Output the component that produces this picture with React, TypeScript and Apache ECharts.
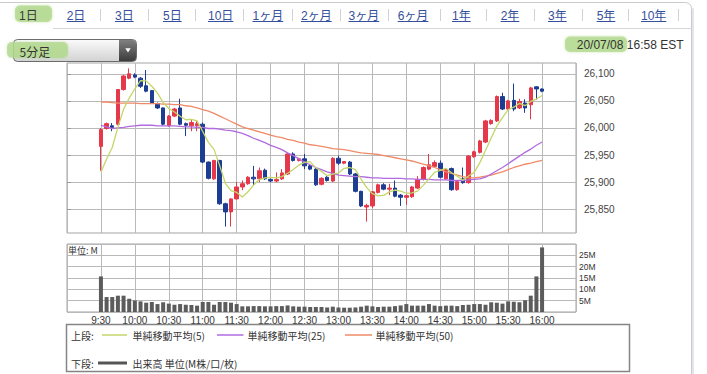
import React, { useEffect, useRef } from 'react';
import * as echarts from 'echarts';

// ---- data ----
const TIME_LABELS = ['9:30', '10:00', '10:30', '11:00', '11:30', '12:00', '12:30', '13:00', '13:30', '14:00', '14:30', '15:00', '15:30', '16:00'];
const PRICE_TICKS = [25850, 25900, 25950, 26000, 26050, 26100];
const VOLUME_TICKS = [5, 10, 15, 20, 25];

const OPEN = [25966, 25999, 26004, 26007, 26071, 26092, 26098, 26092, 26078, 26069, 26045, 26037, 26004, 26022, 26037, 26008, 26004, 26004, 26007, 25937, 25906, 25940, 25860, 25845, 25869, 25891, 25897, 25909, 25906, 25922, 25905, 25902, 25906, 25915, 25952, 25940, 25943, 25930, 25924, 25896, 25909, 25902, 25944, 25935, 25937, 25915, 25883, 25854, 25856, 25881, 25895, 25887, 25889, 25876, 25872, 25873, 25889, 25905, 25924, 25929, 25935, 25906, 25925, 25886, 25906, 25899, 25947, 25955, 25974, 26008, 26013, 26058, 26035, 26051, 26037, 26046, 26043, 26076, 26072];
const CLOSE = [25997, 26008, 26001, 26071, 26096, 26100, 26094, 26077, 26068, 26046, 26037, 26007, 26022, 26035, 26007, 26005, 26010, 26008, 25937, 25907, 25940, 25860, 25845, 25869, 25891, 25897, 25909, 25906, 25921, 25906, 25902, 25905, 25917, 25952, 25940, 25943, 25930, 25924, 25895, 25907, 25903, 25944, 25935, 25938, 25915, 25883, 25856, 25857, 25882, 25895, 25887, 25889, 25874, 25872, 25875, 25891, 25905, 25927, 25932, 25936, 25909, 25923, 25886, 25901, 25899, 25948, 25956, 25976, 26013, 26014, 26058, 26035, 26050, 26035, 26049, 26037, 26074, 26072, 26068];
const LOW = [25921, 25997, 25994, 26005, 26069, 26090, 26092, 26074, 26066, 26045, 26035, 26004, 26002, 26020, 26005, 25985, 25994, 25994, 25935, 25905, 25904, 25858, 25818, 25818, 25868, 25885, 25895, 25894, 25900, 25904, 25900, 25900, 25904, 25913, 25938, 25938, 25924, 25922, 25893, 25894, 25901, 25900, 25932, 25933, 25913, 25881, 25854, 25827, 25852, 25879, 25885, 25876, 25872, 25856, 25858, 25871, 25887, 25903, 25922, 25927, 25907, 25904, 25884, 25884, 25897, 25897, 25945, 25953, 25972, 26006, 26011, 26033, 26033, 26031, 26035, 26028, 26016, 26052, 26066];
const HIGH = [26000, 26010, 26009, 26072, 26098, 26110, 26101, 26094, 26107, 26070, 26047, 26038, 26024, 26037, 26054, 26010, 26016, 26013, 26010, 25938, 25941, 25941, 25862, 25870, 25900, 25903, 25911, 25930, 25927, 25925, 25907, 25918, 25924, 25954, 25955, 25945, 25952, 25932, 25926, 25909, 25911, 25946, 25949, 25939, 25939, 25917, 25884, 25860, 25883, 25897, 25898, 25897, 25903, 25878, 25877, 25893, 25911, 25929, 25952, 25940, 25940, 25925, 25927, 25903, 25927, 25950, 25958, 25978, 26015, 26016, 26060, 26065, 26052, 26082, 26054, 26053, 26076, 26077, 26073];
const VOLUME = [15.7, 6.6, 6.6, 7.2, 7.2, 5.9, 5.1, 4.7, 4.1, 4.4, 3.5, 4.3, 3.7, 3.2, 3.5, 3.2, 3.1, 2.8, 4.4, 4.4, 3.2, 4.4, 4.4, 4.1, 3.5, 2.5, 2.5, 2.6, 2.6, 2.5, 2.5, 2.6, 2.6, 2.9, 2.5, 2.35, 2.35, 2.2, 2.2, 2.2, 2.0, 2.35, 2.0, 1.9, 1.9, 2.0, 2.35, 2.8, 2.5, 2.2, 2.35, 2.35, 2.6, 2.9, 3.5, 2.8, 2.8, 2.8, 3.5, 2.8, 2.6, 2.8, 2.8, 2.6, 3.1, 3.2, 3.5, 3.5, 3.2, 4.3, 4.1, 3.7, 4.7, 4.5, 4.3, 5.2, 7.2, 15.7, 28.5];
const PREV_CLOSES = [25885, 25894, 25886, 25928];
const SMA25 = [26005, 26002, 25999, 26000, 26001, 26003, 26004, 26005, 26005, 26005, 26004, 26004, 26004, 26004, 26003, 26002, 26002, 26001, 26001, 25999, 25999, 25998, 25996, 25995, 25993, 25990, 25986, 25981, 25977, 25973, 25968, 25964, 25960, 25954, 25949, 25943, 25937, 25932, 25927, 25923, 25919, 25916, 25913, 25912, 25911, 25910, 25910, 25909, 25908, 25908, 25907, 25907, 25907, 25907, 25906, 25906, 25905, 25905, 25905, 25904, 25904, 25904, 25903, 25903, 25903, 25904, 25905, 25906, 25909, 25915, 25921, 25927, 25934, 25941, 25948, 25955, 25961, 25968, 25974];
const SMA50 = [26048, 26048, 26047, 26046, 26046, 26046, 26046, 26045, 26045, 26045, 26045, 26044, 26044, 26043, 26043, 26041, 26040, 26037, 26034, 26031, 26027, 26022, 26017, 26012, 26007, 26002, 25999, 25996, 25993, 25990, 25987, 25984, 25982, 25979, 25977, 25974, 25972, 25969, 25968, 25966, 25964, 25962, 25961, 25960, 25958, 25956, 25954, 25953, 25952, 25951, 25949, 25947, 25945, 25943, 25941, 25939, 25936, 25933, 25930, 25927, 25923, 25919, 25916, 25913, 25910, 25908, 25908, 25909, 25911, 25913, 25916, 25919, 25923, 25927, 25930, 25933, 25935, 25938, 25940];

const TABS = ['1日', '2日', '3日', '5日', '10日', '1ヶ月', '2ヶ月', '3ヶ月', '6ヶ月', '1年', '2年', '3年', '5年', '10年'];
const TAB_X = [19, 66.7, 115, 163, 208, 252.5, 301, 348.5, 397.7, 452, 500.7, 548, 596.7, 641];

// ---- styles ----
const RED = '#e5384a';
const BLUE = '#1d3d92';
const SMA5_COLOR = '#c3d66a';
const SMA25_COLOR = '#b16be0';
const SMA50_COLOR = '#ef8a68';
const GRID_COLOR = '#b9b9b9';
const FONT = '"Liberation Sans", "Noto Sans CJK JP", sans-serif';
const JFONT = '"Noto Sans CJK JP", "Liberation Sans", sans-serif';

const START = 30; // minutes after 9:00 of the first bar
const STEP = 5;
const xOf = (i: number) => START + STEP * i;

function textWidth(s: string, size: number) {
  let w = 0;
  for (const ch of s) w += /[0-9]/.test(ch) ? size * 0.556 : size;
  return w;
}

function buildOption() {
  const allCloses = [...PREV_CLOSES, ...CLOSE];
  const sma5 = CLOSE.map((_, i) => {
    let s = 0;
    for (let k = 0; k < 5; k++) s += allCloses[i + 4 - k];
    return s / 5;
  });

  const candles = OPEN.map((o, i) => [xOf(i), o, CLOSE[i], LOW[i], HIGH[i]]);
  const vols = VOLUME.map((v, i) => [xOf(i), v]);
  const line = (arr: number[]) => arr.map((v, i) => [xOf(i), v]);

  const graphics: any[] = [];
  // outer frame
  graphics.push({ type: 'rect', shape: { x: -6, y: 2.5, width: 697.5, height: 420, r: 6 }, style: { fill: 'none', stroke: '#cacaca', lineWidth: 1 }, z: 1 });
  graphics.push({ type: 'line', shape: { x1: 693, y1: 8, x2: 693, y2: 374 }, style: { stroke: '#e2e5ee', lineWidth: 2 }, z: 1 });
  graphics.push({ type: 'line', shape: { x1: 53, y1: 28.5, x2: 691.5, y2: 28.5 }, style: { stroke: '#d6d6d6', lineWidth: 1 }, z: 1 });

  // tabs
  graphics.push({ type: 'rect', shape: { x: 15, y: 5.5, width: 37, height: 16.5, r: 5 }, style: { fill: 'rgba(176,216,140,0.75)', shadowBlur: 3, shadowColor: 'rgba(176,216,140,0.8)' }, z: 2 });
  TABS.forEach((t, i) => {
    const sel = i === 0;
    graphics.push({ type: 'text', x: TAB_X[i], y: 15.5, style: { text: t, font: `12px ${FONT}`, fill: sel ? '#3a3a3a' : '#34509c', textAlign: 'left', textVerticalAlign: 'middle' }, z: 3 });
    if (!sel) {
      const w = textWidth(t, 12);
      graphics.push({ type: 'line', shape: { x1: TAB_X[i], y1: 21.5, x2: TAB_X[i] + w, y2: 21.5 }, style: { stroke: '#34509c', lineWidth: 1 }, z: 3 });
      const nextX = i < TABS.length - 1 ? TAB_X[i + 1] : TAB_X[i] + w + 24;
      if (i >= 1) {
        const sx = Math.round((TAB_X[i] + w + nextX) / 2) + 0.5;
        graphics.push({ type: 'line', shape: { x1: sx, y1: 9, x2: sx, y2: 21 }, style: { stroke: '#d2d2d2', lineWidth: 1 }, z: 3 });
      }
    }
  });

  // dropdown
  graphics.push({ type: 'rect', shape: { x: 13.5, y: 39.5, width: 123, height: 22, r: 4 }, style: { fill: new echarts.graphic.LinearGradient(0, 0, 0, 1, [{ offset: 0, color: '#fbfbfb' }, { offset: 1, color: '#d2d2d2' }]), stroke: '#6c6c6c', lineWidth: 1 }, z: 2 });
  graphics.push({ type: 'rect', shape: { x: 119, y: 40, width: 17, height: 21, r: [0, 3.5, 3.5, 0] }, style: { fill: new echarts.graphic.LinearGradient(0, 0, 0, 1, [{ offset: 0, color: '#808080' }, { offset: 1, color: '#3c3c3c' }]) }, z: 3 });
  graphics.push({ type: 'polygon', shape: { points: [[125.3, 48.3], [130.7, 48.3], [128, 52.5]] }, style: { fill: '#ffffff' }, z: 4 });
  graphics.push({ type: 'rect', shape: { x: 7, y: 42, width: 61, height: 16, r: 5 }, style: { fill: 'rgba(176,216,140,0.72)', shadowBlur: 3, shadowColor: 'rgba(176,216,140,0.8)' }, z: 4 });
  graphics.push({ type: 'text', x: 19.5, y: 51.5, style: { text: '5分足', font: `12px ${JFONT}`, fill: '#333', textAlign: 'left', textVerticalAlign: 'middle' }, z: 5 });

  // date
  graphics.push({ type: 'rect', shape: { x: 565, y: 36.5, width: 62, height: 15.5, r: 5 }, style: { fill: 'rgba(176,216,140,0.72)', shadowBlur: 3, shadowColor: 'rgba(176,216,140,0.8)' }, z: 2 });
  graphics.push({ type: 'text', x: 683.5, y: 44.5, style: { text: '20/07/08 16:58 EST', font: `12px ${FONT}`, fill: '#333', textAlign: 'right', textVerticalAlign: 'middle' }, z: 3 });

  // volume unit
  graphics.push({ type: 'text', x: 68, y: 250, style: { text: '単位: M', font: `9px ${JFONT}`, fill: '#333', textAlign: 'left', textVerticalAlign: 'middle' }, z: 100 });

  // legend box
  graphics.push({ type: 'rect', shape: { x: 66.5, y: 324.5, width: 563, height: 47 }, style: { fill: '#fff', stroke: '#858585', lineWidth: 1.5 }, z: 2 });
  const lt = (x: number, y: number, text: string) => ({ type: 'text', x, y, style: { text, font: `10px ${JFONT}`, fill: '#333', textAlign: 'left', textVerticalAlign: 'middle' }, z: 3 });
  const ll = (x1: number, x2: number, y: number, color: string, w: number) => ({ type: 'line', shape: { x1, y1: y, x2, y2: y }, style: { stroke: color, lineWidth: w }, z: 3 });
  graphics.push(lt(71, 335, '上段:'));
  graphics.push(ll(102, 127, 335, SMA5_COLOR, 1.5));
  graphics.push(lt(132.5, 335, '単純移動平均(5)'));
  graphics.push(ll(217, 243.5, 335, SMA25_COLOR, 1.5));
  graphics.push(lt(247.5, 335, '単純移動平均(25)'));
  graphics.push(ll(345, 372, 335, SMA50_COLOR, 1.5));
  graphics.push(lt(375.5, 335, '単純移動平均(50)'));
  graphics.push(lt(71, 363, '下段:'));
  graphics.push(ll(98, 127, 363, '#555', 3));
  graphics.push(lt(132.5, 363, '出来高 単位(M株/口/枚)'));

  const splitLine = { show: true, lineStyle: { color: GRID_COLOR, width: 1 } };

  return {
    animation: false,
    backgroundColor: '#ffffff',
    grid: [
      { left: 67, top: 63, width: 509, height: 170, show: true, borderColor: '#a3a3a3', borderWidth: 1 },
      { left: 67, top: 244, width: 509, height: 68, show: true, borderColor: '#a3a3a3', borderWidth: 1 },
    ],
    xAxis: [
      { type: 'value', gridIndex: 0, min: 0, max: 450, interval: 30, axisLine: { show: false }, axisTick: { show: false }, axisLabel: { show: false }, splitLine },
      {
        type: 'value', gridIndex: 1, min: 0, max: 450, interval: 30, axisLine: { show: false }, axisTick: { show: false },
        axisLabel: { show: true, showMinLabel: false, showMaxLabel: false, margin: 3, color: '#333', fontSize: 10, fontFamily: FONT, formatter: (v: number) => TIME_LABELS[Math.round(v / 30) - 1] || '' },
        splitLine,
      },
    ],
    yAxis: [
      {
        type: 'value', gridIndex: 0, position: 'right', min: 25806, max: 26120, minInterval: 50, maxInterval: 50,
        axisLine: { show: false },
        axisTick: { show: true, length: 4, lineStyle: { color: '#9a9a9a' }, customValues: PRICE_TICKS },
        axisLabel: { customValues: PRICE_TICKS, margin: 8, color: '#444', fontSize: 10, fontFamily: FONT, formatter: (v: number) => (PRICE_TICKS.includes(v) ? v.toLocaleString('en-US') : '') },
        splitLine,
      },
      {
        type: 'value', gridIndex: 1, position: 'right', min: 0, max: 30, interval: 5,
        axisLine: { show: false }, axisTick: { show: false },
        axisLabel: { margin: 3, color: '#333', fontSize: 8.5, fontFamily: FONT, formatter: (v: number) => (VOLUME_TICKS.includes(v) ? v + 'M' : '') },
        splitLine,
      },
    ],
    series: [
      {
        type: 'candlestick', xAxisIndex: 0, yAxisIndex: 0, barWidth: 4,
        encode: { x: 0, y: [1, 2, 3, 4] },
        data: candles,
        itemStyle: { color: RED, color0: BLUE, borderColor: RED, borderColor0: BLUE, borderWidth: 1 },
      },
      { type: 'line', xAxisIndex: 0, yAxisIndex: 0, data: line(SMA50), symbol: 'none', lineStyle: { color: SMA50_COLOR, width: 1.3 }, z: 3 },
      { type: 'line', xAxisIndex: 0, yAxisIndex: 0, data: line(SMA25), symbol: 'none', lineStyle: { color: SMA25_COLOR, width: 1.3 }, z: 3 },
      { type: 'line', xAxisIndex: 0, yAxisIndex: 0, data: line(sma5), symbol: 'none', lineStyle: { color: SMA5_COLOR, width: 1.3 }, z: 3 },
      { type: 'bar', xAxisIndex: 1, yAxisIndex: 1, barWidth: 4, data: vols, itemStyle: { color: '#5c5c5c' } },
    ],
    graphic: graphics,
  };
}

export default function App() {
  const ref = useRef<HTMLDivElement>(null);
  useEffect(() => {
    document.body.style.margin = '0';
    const chart = echarts.init(ref.current!, null, { renderer: 'svg' });
    chart.setOption(buildOption() as any);
    return () => chart.dispose();
  }, []);
  return <div ref={ref} style={{ position: 'absolute', left: 0, top: 0, width: 707, height: 374, background: '#fff' }} />;
}
